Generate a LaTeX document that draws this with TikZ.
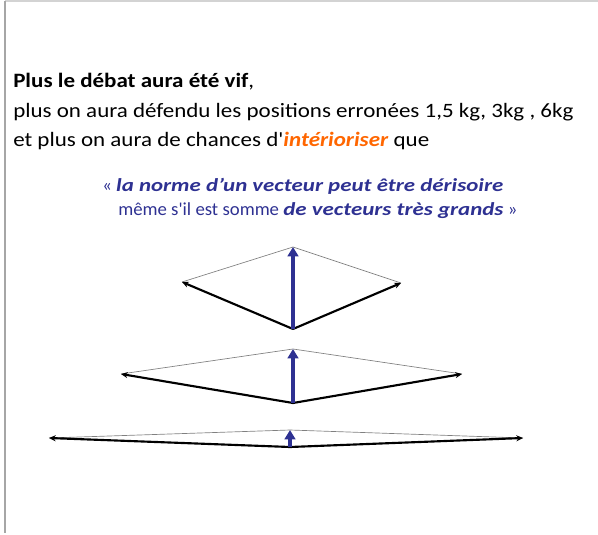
\documentclass[tikz,border=0pt]{standalone}
\usepackage{fontspec}
\setmainfont{Carlito}
\usepackage{graphicx}
\usepackage{xcolor}
\usepackage{tikz}
\usetikzlibrary{arrows.meta}
\definecolor{quoteblue}{HTML}{2E3192}
\definecolor{warmorange}{HTML}{FF6600}
\definecolor{framegray}{HTML}{A6A6A6}
\newcommand{\widen}[2]{\scalebox{#1}[1]{#2}}

\begin{document}
\begin{tikzpicture}[x=0.75pt,y=-0.75pt,
  summand/.style={line width=1.6pt,-{Stealth[length=5pt,width=4.5pt]}},
  resultant/.style={quoteblue,line width=3pt,-{Triangle[length=7pt,width=8pt]}},
  closing/.style={gray,line width=0.5pt},
  txt/.style={anchor=base west,inner sep=0pt,font=\fontsize{15.3}{18}\selectfont},
  quote/.style={txt,quoteblue,font=\fontsize{13.8}{16}\selectfont}]
  \useasboundingbox (0,0) rectangle (598,534);
  \draw[framegray!50,line width=1.5pt] (5,1.5) -- (598,1.5);
  \draw[framegray,line width=0.8pt] (5,1) -- (5,533);
  \node[txt] (title) at (13,88) {\widen{1.127}{\textbf{Plus le débat aura été vif},}};
  \node[txt] (posline) at (13,118) {\widen{1.127}{plus on aura défendu les positions erronées 1,5 kg, 3kg , 6kg}};
  \node[txt] (interline) at (13,147) {\widen{1.127}{et plus on aura de chances d\textquotesingle\textcolor{warmorange}{\textbf{\textit{intérioriser}}} que}};
  \node[quote] (quoteA) at (102,192) {\widen{1.02}{« }\widen{1.245}{\textbf{\textit{la norme d’un vecteur peut être dérisoire}}}};
  \node[quote] (quoteB) at (118,216) {\widen{1.02}{même s\textquotesingle il est somme }\widen{1.245}{\textbf{\textit{de vecteurs très grands}}}\widen{1.02}{ »}};
  \foreach \k/\bx/\by/\lx/\ly/\rx/\ry/\tx/\ty in
    {1/293/329/182/282/401/283/293/247,
     2/293/403/121/374/462/374/293/349,
     3/290/447/49/438/523/438/290/430}{
    \coordinate (foot\k) at (\bx,\by);
    \coordinate (left\k) at (\lx,\ly);
    \coordinate (right\k) at (\rx,\ry);
    \coordinate (top\k) at (\tx,\ty);
    \draw[closing] (left\k) -- (top\k) -- (right\k);
    \draw[summand] (foot\k) -- (left\k);
    \draw[summand] (foot\k) -- (right\k);
    \draw[resultant] (foot\k) -- (top\k);
  }
\end{tikzpicture}
\end{document}
